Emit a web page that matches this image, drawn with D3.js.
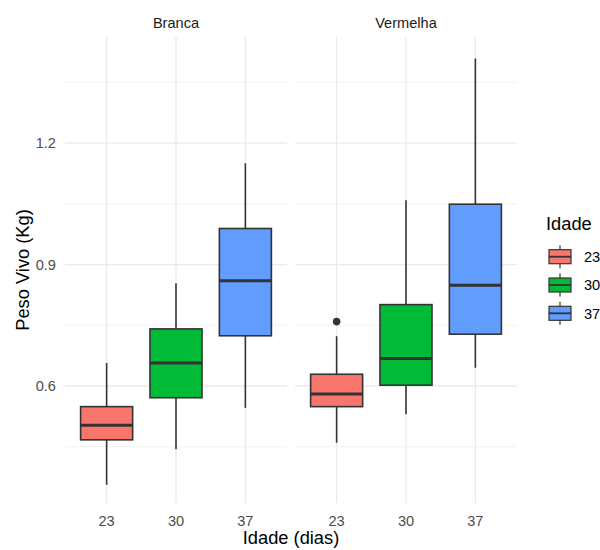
<!DOCTYPE html>
<html>
<head>
<meta charset="utf-8">
<script src="https://cdn.jsdelivr.net/npm/d3@7"></script>
<style>
  body { margin: 0; background: #fff; }
  text { font-family: "Liberation Sans", Arial, sans-serif; }
</style>
</head>
<body>
<div id="chart"></div>
<script>
// Data
var panels = ["Branca", "Vermelha"];
var ages = ["23", "30", "37"];
var colors = ["#F8766D", "#00BA38", "#619CFF"];

// [lower whisker, q1, median, q3, upper whisker] per panel, per age
var brancaStats = [
  [0.356, 0.467, 0.503, 0.549, 0.657],
  [0.444, 0.571, 0.657, 0.741, 0.854],
  [0.546, 0.724, 0.860, 0.989, 1.150]
];
var vermelhaStats = [
  [0.460, 0.549, 0.580, 0.629, 0.723],
  [0.530, 0.602, 0.668, 0.801, 1.059],
  [0.645, 0.728, 0.849, 1.049, 1.409]
];
var outliers = [
  {panel: "Vermelha", age: "23", value: 0.759}
];
var yTicks = [0.6, 0.9, 1.2];
var yMinor = [0.45, 0.75, 1.05, 1.35];

var w = 600, h = 550;
var svg = d3.select("#chart").append("svg")
  .attr("width", w).attr("height", h);

var plotTop = 37, plotBottom = 503;
var panelX = {Branca: [65, 287], Vermelha: [295, 517]};
var tickSize = 14.6, titleSize = 18.3;

var y = d3.scaleLinear()
  .domain([0.311, 1.462])
  .range([plotBottom, plotTop]);

var statsByPanel = {Branca: brancaStats, Vermelha: vermelhaStats};

panels.forEach(function(p) {
  // discrete scale: 0.6 units of expansion each side
  var x = d3.scalePoint()
    .domain(ages)
    .range(panelX[p])
    .padding(0.6);
  var cx = function(a) { return x(a); };
  var bw = x.step() * 0.75;

  var g = svg.append("g");

  // grid
  g.selectAll(".minor").data(yMinor).enter().append("line")
    .attr("x1", panelX[p][0]).attr("x2", panelX[p][1])
    .attr("y1", function(d) { return y(d); }).attr("y2", function(d) { return y(d); })
    .attr("stroke", "#ebebeb").attr("stroke-width", 0.7);
  g.selectAll(".major").data(yTicks).enter().append("line")
    .attr("x1", panelX[p][0]).attr("x2", panelX[p][1])
    .attr("y1", function(d) { return y(d); }).attr("y2", function(d) { return y(d); })
    .attr("stroke", "#ebebeb").attr("stroke-width", 1.3);
  g.selectAll(".vgrid").data(ages).enter().append("line")
    .attr("x1", cx).attr("x2", cx)
    .attr("y1", plotTop).attr("y2", plotBottom)
    .attr("stroke", "#ebebeb").attr("stroke-width", 1.3);

  // strip label
  svg.append("text")
    .attr("x", (panelX[p][0] + panelX[p][1]) / 2).attr("y", 28)
    .attr("text-anchor", "middle").attr("font-size", tickSize).attr("fill", "#1a1a1a")
    .text(p);

  // x tick labels
  g.selectAll(".xt").data(ages).enter().append("text")
    .attr("x", cx).attr("y", 526)
    .attr("text-anchor", "middle").attr("font-size", tickSize).attr("fill", "#4d4d4d")
    .text(function(d) { return d; });

  var stats = statsByPanel[p];
  var boxes = g.selectAll(".box").data(ages).enter().append("g");

  boxes.append("line")
    .attr("x1", cx).attr("x2", cx)
    .attr("y1", function(d, i) { return y(stats[i][0]); })
    .attr("y2", function(d, i) { return y(stats[i][4]); })
    .attr("stroke", "#333333").attr("stroke-width", 1.6);
  boxes.append("rect")
    .attr("x", function(d) { return cx(d) - bw / 2; })
    .attr("width", bw)
    .attr("y", function(d, i) { return y(stats[i][3]); })
    .attr("height", function(d, i) { return y(stats[i][1]) - y(stats[i][3]); })
    .attr("fill", function(d, i) { return colors[i]; })
    .attr("stroke", "#333333").attr("stroke-width", 1.6);
  boxes.append("line")
    .attr("x1", function(d) { return cx(d) - bw / 2; })
    .attr("x2", function(d) { return cx(d) + bw / 2; })
    .attr("y1", function(d, i) { return y(stats[i][2]); })
    .attr("y2", function(d, i) { return y(stats[i][2]); })
    .attr("stroke", "#333333").attr("stroke-width", 3);

  g.selectAll(".out").data(outliers.filter(function(o) { return o.panel == p; }))
    .enter().append("circle")
    .attr("cx", function(d) { return cx(d.age); })
    .attr("cy", function(d) { return y(d.value); })
    .attr("r", 3.8).attr("fill", "#333333");
});

// y tick labels
svg.selectAll(".yt").data(yTicks).enter().append("text")
  .attr("x", 56).attr("y", function(d) { return y(d) + 5.3; })
  .attr("text-anchor", "end").attr("font-size", tickSize).attr("fill", "#4d4d4d")
  .text(d3.format(".1f"));

// axis titles
svg.append("text")
  .attr("transform", "translate(28.5," + ((plotTop + plotBottom) / 2) + ") rotate(-90)")
  .attr("text-anchor", "middle").attr("font-size", titleSize).attr("fill", "#000")
  .text("Peso Vivo (Kg)");
svg.append("text")
  .attr("x", 291).attr("y", 544)
  .attr("text-anchor", "middle").attr("font-size", titleSize).attr("fill", "#000")
  .text("Idade (dias)");

// legend
var legend = svg.append("g");
legend.append("text")
  .attr("x", 546).attr("y", 230)
  .attr("font-size", titleSize).attr("fill", "#000")
  .text("Idade");
var keys = legend.selectAll(".key").data(ages).enter().append("g")
  .attr("transform", function(d, i) { return "translate(0," + (256.7 + i * 28.3) + ")"; });
keys.append("line")
  .attr("x1", 560).attr("x2", 560).attr("y1", -11.5).attr("y2", 11.5)
  .attr("stroke", "#333333").attr("stroke-width", 1.2);
keys.append("rect")
  .attr("x", 549).attr("y", -7).attr("width", 22).attr("height", 14)
  .attr("fill", function(d, i) { return colors[i]; })
  .attr("stroke", "#333333").attr("stroke-width", 1.2);
keys.append("line")
  .attr("x1", 549).attr("x2", 571).attr("y1", 0).attr("y2", 0)
  .attr("stroke", "#333333").attr("stroke-width", 1.8);
keys.append("text")
  .attr("x", 584).attr("y", 5.3)
  .attr("font-size", tickSize).attr("fill", "#000")
  .text(function(d) { return d; });
</script>
</body>
</html>
